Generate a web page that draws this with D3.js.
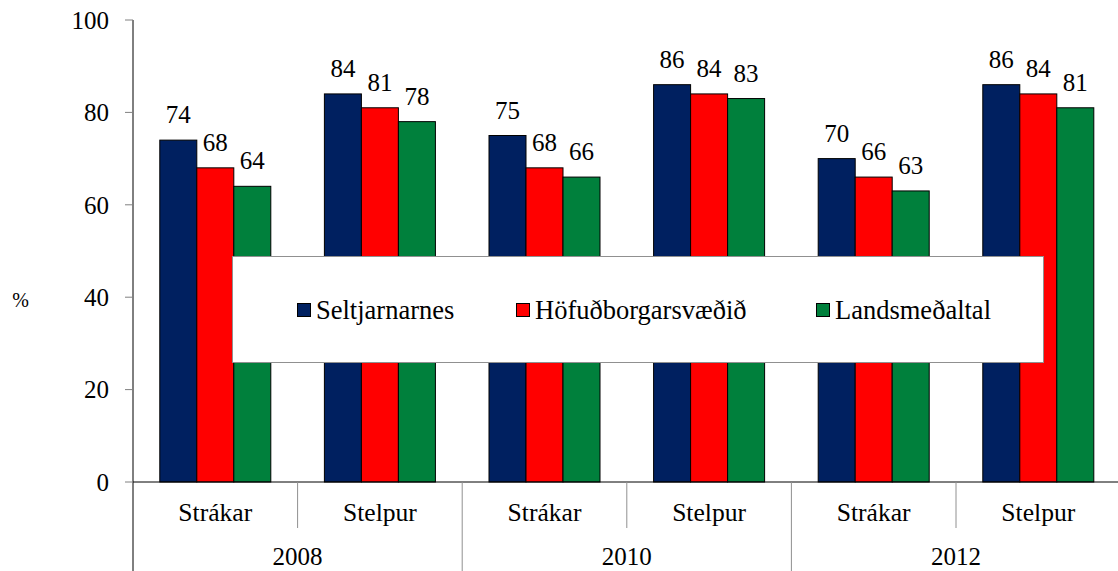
<!DOCTYPE html>
<html>
<head>
<meta charset="utf-8">
<script src="https://cdn.jsdelivr.net/npm/d3@7"></script>
<style>
  body { margin: 0; background: #fff; }
</style>
</head>
<body>
<svg id="chart"></svg>
<script>
let width = 1118;
let height = 571;

// data
let years = ["2008", "2010", "2012"];
let genders = ["Strákar", "Stelpur"];
let seriesNames = ["Seltjarnarnes", "Höfuðborgarsvæðið", "Landsmeðaltal"];
let seltjarnarnes = [74, 84, 75, 86, 70, 86];
let hofudborg = [68, 81, 68, 84, 66, 84];
let landsmedaltal = [64, 78, 66, 83, 63, 81];
let yTicks = [0, 20, 40, 60, 80, 100];
let colors = ["#002060", "#FF0000", "#00803C"];

let plotLeft = 133, plotRight = 1120.6, plotTop = 20, plotBottom = 482;
let fontSize = 25;
let serif = "Liberation Serif";

let categories = [];
years.forEach(y => genders.forEach(g => categories.push(y + "|" + g)));
let values = [seltjarnarnes, hofudborg, landsmedaltal];

let svg = d3.select("#chart")
    .attr("width", width)
    .attr("height", height)
    .attr("font-family", serif);

let x = d3.scaleBand()
    .domain(categories)
    .range([plotLeft, plotRight])
    .paddingInner(0)
    .paddingOuter(0);

let bw = x.bandwidth();
let x1 = d3.scaleBand()
    .domain(seriesNames)
    .range([bw * 0.1628, bw * 0.8372]);

let y = d3.scaleLinear()
    .domain([0, 100])
    .range([plotBottom, plotTop]);

// bars
let barG = svg.append("g");
seriesNames.forEach((s, si) => {
    barG.selectAll(".bar" + si)
        .data(categories)
        .enter()
        .append("rect")
        .attr("x", d => x(d) + x1(s))
        .attr("y", (d, i) => y(values[si][i]))
        .attr("width", x1.bandwidth())
        .attr("height", (d, i) => y(0) - y(values[si][i]))
        .attr("fill", colors[si])
        .attr("stroke", "#000")
        .attr("stroke-width", 1);

    barG.selectAll(".lab" + si)
        .data(categories)
        .enter()
        .append("text")
        .attr("x", d => x(d) + x1(s) + x1.bandwidth() / 2)
        .attr("y", (d, i) => y(values[si][i]) - 17)
        .attr("text-anchor", "middle")
        .attr("font-family", serif)
        .attr("font-size", fontSize)
        .text((d, i) => values[si][i]);
});

// y axis
let yAxis = svg.append("g");
yAxis.append("line")
    .attr("x1", plotLeft).attr("x2", plotLeft)
    .attr("y1", plotTop).attr("y2", height)
    .attr("stroke", "#000");
yAxis.selectAll(".tick")
    .data(yTicks)
    .enter()
    .append("line")
    .attr("x1", plotLeft - 8).attr("x2", plotLeft)
    .attr("y1", d => y(d)).attr("y2", d => y(d))
    .attr("stroke", "#808080");
yAxis.selectAll(".tl")
    .data(yTicks)
    .enter()
    .append("text")
    .attr("x", plotLeft - 24)
    .attr("y", d => y(d) + 8.8)
    .attr("text-anchor", "end")
    .attr("font-family", serif)
    .attr("font-size", fontSize)
    .text(d => d);

svg.append("text")
    .attr("x", 20.5)
    .attr("y", 307)
    .attr("text-anchor", "middle")
    .attr("font-family", serif)
    .attr("font-size", 20)
    .text("%");

// x axis
svg.append("line")
    .attr("x1", plotLeft).attr("x2", width)
    .attr("y1", plotBottom).attr("y2", plotBottom)
    .attr("stroke", "#000");

// category dividers (within year) and year dividers
let yearW = bw * genders.length;
years.forEach((yr, yi) => {
    let x0 = plotLeft + yi * yearW;
    svg.append("line")
        .attr("x1", x0 + bw).attr("x2", x0 + bw)
        .attr("y1", plotBottom).attr("y2", 528)
        .attr("stroke", "#909090");
    if (yi > 0) {
        svg.append("line")
            .attr("x1", x0).attr("x2", x0)
            .attr("y1", plotBottom).attr("y2", height)
            .attr("stroke", "#909090");
    }
    svg.append("text")
        .attr("x", x0 + yearW / 2)
        .attr("y", 565)
        .attr("text-anchor", "middle")
        .attr("font-family", serif)
        .attr("font-size", fontSize)
        .text(yr);
});

svg.selectAll(".cat")
    .data(categories)
    .enter()
    .append("text")
    .attr("x", d => x(d) + bw / 2)
    .attr("y", 521)
    .attr("text-anchor", "middle")
    .attr("font-family", serif)
    .attr("font-size", 25.6)
    .text(d => d.split("|")[1]);

// legend
let legend = svg.append("g");
legend.append("rect")
    .attr("x", 232.5).attr("y", 256.5)
    .attr("width", 811).attr("height", 106)
    .attr("fill", "#fff")
    .attr("stroke", "#909090");

let legendX = [297, 516, 816];
seriesNames.forEach((s, si) => {
    legend.append("rect")
        .attr("x", legendX[si] + 0.5).attr("y", 303.5)
        .attr("width", 13).attr("height", 13)
        .attr("fill", colors[si])
        .attr("stroke", "#000");
    legend.append("text")
        .attr("x", legendX[si] + 19)
        .attr("y", 319)
        .attr("font-family", serif)
        .attr("font-size", 26.5)
        .text(s);
});
</script>
</body>
</html>
